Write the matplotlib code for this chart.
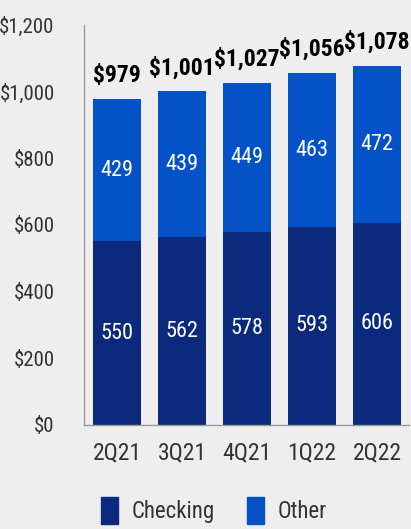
import matplotlib
matplotlib.use("Agg")
import matplotlib.pyplot as plt
from matplotlib import font_manager
from matplotlib.patches import Patch

quarters = ["2Q21", "3Q21", "4Q21", "1Q22", "2Q22"]
checking = [550, 562, 578, 593, 606]
other = [429, 439, 449, 463, 472]
totals = [979, 1001, 1027, 1056, 1078]
yticks = [0, 200, 400, 600, 800, 1000, 1200]
ytick_labels = ["$0", "$200", "$400", "$600", "$800", "$1,000", "$1,200"]


def _w(v):
    if isinstance(v, str):
        return font_manager.weight_dict.get(v, 400)
    return v


fonts = {}
for f in font_manager.fontManager.ttflist:
    if f.style == "normal":
        fonts.setdefault(f.name, set()).add(_w(f.weight))

prefs = ["Open Sans Condensed", "Noto Sans Condensed", "Roboto Condensed",
         "Fira Sans Condensed", "Asap Condensed", "Barlow Semi Condensed"]
regular = 400
chosen = "DejaVu Sans"
for p in prefs:
    ws = fonts.get(p, set())
    reg = [w for w in ws if 300 <= w <= 400]
    if reg and any(w >= 600 for w in ws):
        chosen = p
        regular = max(reg)
        break
plt.rcParams["font.family"] = [chosen, "DejaVu Sans"]
plt.rcParams["font.weight"] = regular

navy = "#0b2a7e"
blue = "#0552c8"
bg = "#eeeeee"
txt = "#333333"

fig = plt.figure(figsize=(4.11, 5.29), dpi=100, facecolor=bg)
ax = fig.add_axes([0.204, 0.197, 0.791, 0.756], facecolor=bg)

x = list(range(len(quarters)))
w = 0.74
ax.bar(x, checking, width=w, color=navy, label="Checking")
ax.bar(x, other, width=w, bottom=checking, color=blue, label="Other")

for i in x:
    ax.text(i, checking[i] / 2, str(checking[i]), ha="center", va="center",
            color="white", fontsize=16, fontweight=regular)
    ax.text(i, checking[i] + other[i] / 2, str(other[i]), ha="center", va="center",
            color="white", fontsize=16, fontweight=regular)
    ax.text(i, totals[i] + 50, f"${totals[i]:,}", ha="center", va="baseline",
            color="black", fontsize=17, fontweight="bold")

ax.set_xlim(-0.51, 4.49)
ax.set_ylim(0, 1200)
ax.set_yticks(yticks)
ax.set_yticklabels(ytick_labels, fontsize=15, color=txt, fontweight=regular)
ax.set_xticks(x)
ax.set_xticklabels(quarters, fontsize=17, color=txt, fontweight=regular)
ax.tick_params(axis="both", length=0)
ax.tick_params(axis="y", pad=21)
ax.tick_params(axis="x", pad=12)
for s in ["top", "right"]:
    ax.spines[s].set_visible(False)
for s in ["left", "bottom"]:
    ax.spines[s].set_color("#999999")
    ax.spines[s].set_linewidth(1)

handles = [Patch(color=navy, label="Checking"), Patch(color=blue, label="Other")]
fig.legend(handles=handles, loc="center", bbox_to_anchor=(0.52, 0.035), ncol=2,
           frameon=False, handlelength=0.75, handleheight=1.4,
           columnspacing=1.4, handletextpad=0.6, labelcolor=txt,
           prop={"size": 16.5, "weight": regular})

fig.savefig("out.png", dpi=100, facecolor=bg)
